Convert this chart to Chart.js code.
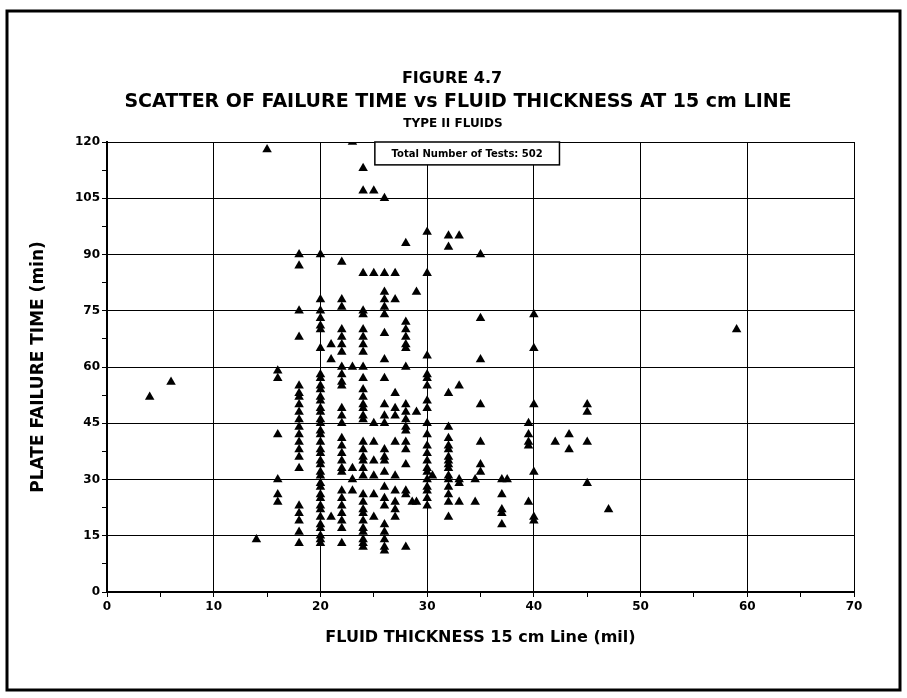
<!DOCTYPE html>
<html>
<head>
<meta charset="utf-8">
<script src="https://cdn.jsdelivr.net/npm/chart.js@4.4.1/dist/chart.umd.min.js"></script>
<style>
  html, body { margin: 0; padding: 0; background: #fff; }
  #wrap { position: relative; width: 907px; height: 698px; }
</style>
</head>
<body>
<div id="wrap"><canvas id="scatterChart"></canvas></div>
<script>
// --- text ---
const titleLines = ['FIGURE 4.7', 'SCATTER OF FAILURE TIME vs FLUID THICKNESS AT 15 cm LINE', 'TYPE II FLUIDS'];
const xAxisTitle = 'FLUID THICKNESS 15 cm Line (mil)';
const yAxisTitle = 'PLATE FAILURE TIME (min)';
const noteText = 'Total Number of Tests: 502';

// --- data: fluid thickness (mil) columns and the failure times (min) seen at each ---
const thicknessCols = [4, 6, 14, 15, 16, 18, 20, 21, 22, 23, 24, 25, 26, 27, 28, 28.6, 29, 30, 30.5,
                       32, 33, 34.5, 35, 37, 37.5, 39.5, 40, 42, 43.3, 45, 47, 59];
const failureTimes = [
    [52],
    [56],
    [14],
    [118],
    [59, 57, 42, 30, 26, 24],
    [90, 87, 75, 68, 55, 53, 52, 50, 48, 46, 44, 42, 40, 38, 36, 33, 23, 21, 19, 16, 13],
    [90, 78, 75, 73, 71, 70, 65, 58, 57, 55, 54, 52, 51, 49, 48, 46, 45, 43, 42, 40, 38, 37, 35, 34,
     32, 31, 29, 28, 26, 25, 23, 22, 20, 18, 17, 15, 14, 13],
    [66, 62, 20],
    [88, 78, 76, 70, 68, 66, 64, 60, 58, 56, 55, 49, 47, 45, 41, 39, 37, 35, 33, 32, 27, 25, 23, 21, 19, 17, 13],
    [120, 60, 33, 30, 27],
    [113, 107, 85, 75, 74, 70, 68, 66, 64, 60, 57, 54, 52, 50, 49, 47, 46, 40, 38, 36, 35, 33, 31,
     26, 24, 22, 21, 19, 17, 16, 14, 13, 12],
    [107, 85, 45, 40, 35, 31, 26, 20],
    [105, 85, 80, 78, 76, 74, 69, 62, 57, 50, 47, 45, 38, 36, 35, 32, 28, 25, 23, 18, 16, 14, 12, 11],
    [85, 78, 53, 49, 47, 40, 31, 27, 24, 22, 20],
    [93, 72, 70, 68, 66, 65, 60, 50, 48, 46, 44, 43, 40, 38, 34, 27, 26, 12],
    [24],
    [80, 48, 24],
    [96, 85, 63, 58, 57, 55, 51, 49, 45, 42, 39, 37, 35, 33, 32, 30, 28, 27, 25, 23],
    [31],
    [95, 92, 53, 44, 41, 39, 38, 36, 35, 34, 33, 31, 30, 28, 26, 24, 20],
    [95, 55, 30, 29, 24],
    [30, 24],
    [90, 73, 62, 50, 40, 34, 32],
    [30, 26, 22, 21, 18],
    [30],
    [45, 42, 40, 39, 24],
    [74, 65, 50, 32, 20, 19],
    [40],
    [42, 38],
    [50, 48, 40, 29],
    [22],
    [70]
];

// axis ranges / steps
const xRange = [0, 70];
const yRange = [0, 120];
const xMajor = 10, xMinor = 5;
const yMajor = 15, yMinor = 7.5;

// note box corners, in data units
const noteBox = { x0: 25.1, x1: 42.4, y0: 120, y1: 113.9 };

const FONT = 'DejaVu Sans';

const points = [];
thicknessCols.forEach((x, i) => {
    failureTimes[i].forEach(y => points.push({ x: x, y: y }));
});

// titles, frame and the note box
const decorPlugin = {
    id: 'decor',
    afterDraw(chart) {
        const ctx = chart.ctx;
        const xs = chart.scales.x, ys = chart.scales.y;
        ctx.save();

        // page frame
        ctx.strokeStyle = '#000';
        ctx.lineWidth = 3;
        ctx.strokeRect(7, 11, 893, 679);

        // titles
        ctx.fillStyle = '#000';
        ctx.textAlign = 'center';
        ctx.textBaseline = 'middle';
        ctx.font = 'bold 16px "' + FONT + '"';
        ctx.fillText(titleLines[0], 452, 79);
        ctx.font = 'bold 19px "' + FONT + '"';
        ctx.fillText(titleLines[1], 458, 102);
        ctx.font = 'bold 12px "' + FONT + '"';
        ctx.fillText(titleLines[2], 453, 124);

        // note box
        const bx0 = xs.getPixelForValue(noteBox.x0), bx1 = xs.getPixelForValue(noteBox.x1);
        const by0 = ys.getPixelForValue(noteBox.y0), by1 = ys.getPixelForValue(noteBox.y1);
        ctx.fillStyle = '#fff';
        ctx.fillRect(bx0, by0, bx1 - bx0, by1 - by0);
        ctx.lineWidth = 1.5;
        ctx.strokeRect(bx0, by0, bx1 - bx0, by1 - by0);
        ctx.fillStyle = '#000';
        ctx.font = 'bold 10px "' + FONT + '"';
        ctx.fillText(noteText, (bx0 + bx1) / 2, (by0 + by1) / 2 + 1);

        ctx.restore();
    }
};

const tickFont = { family: FONT, size: 12, weight: 'bold' };

new Chart(document.getElementById('scatterChart'), {
    type: 'scatter',
    data: {
        datasets: [{
            data: points,
            pointStyle: 'triangle',
            pointRadius: 5.5,
            backgroundColor: '#000',
            borderColor: '#000',
            borderWidth: 0
        }]
    },
    options: {
        responsive: true,
        maintainAspectRatio: false,
        animation: false,
        devicePixelRatio: 1,
        layout: { padding: { left: 19, top: 142, right: 53, bottom: 40 } },
        plugins: {
            legend: { display: false },
            tooltip: { enabled: false }
        },
        scales: {
            x: {
                type: 'linear',
                min: xRange[0],
                max: xRange[1],
                afterFit: s => { s.height = 66; },
                ticks: {
                    stepSize: xMinor,
                    autoSkip: false,
                    maxRotation: 0,
                    padding: 3,
                    color: '#000',
                    font: tickFont,
                    callback: v => (v % xMajor === 0 ? v : '')
                },
                grid: {
                    color: c => (c.tick && c.tick.value % xMajor === 0 ? '#000' : 'rgba(0,0,0,0)'),
                    tickColor: '#000',
                    tickLength: 5,
                    lineWidth: 1
                },
                border: { color: '#000', width: 2 },
                title: {
                    display: true,
                    text: xAxisTitle,
                    color: '#000',
                    font: { family: FONT, size: 16, weight: 'bold' },
                    padding: { top: 0, bottom: 11 }
                }
            },
            y: {
                type: 'linear',
                min: yRange[0],
                max: yRange[1],
                afterFit: s => { s.width = 88; },
                ticks: {
                    stepSize: yMinor,
                    autoSkip: false,
                    padding: 2,
                    color: '#000',
                    font: tickFont,
                    callback: v => (v % yMajor === 0 ? v : '')
                },
                grid: {
                    color: c => (c.tick && c.tick.value % yMajor === 0 ? '#000' : 'rgba(0,0,0,0)'),
                    tickColor: '#000',
                    tickLength: 5,
                    lineWidth: 1
                },
                border: { color: '#000', width: 2 },
                title: {
                    display: true,
                    text: yAxisTitle,
                    color: '#000',
                    font: { family: FONT, size: 17, weight: 'bold' },
                    padding: { top: 9, bottom: 0 }
                }
            }
        }
    },
    plugins: [decorPlugin]
});
</script>
</body>
</html>
